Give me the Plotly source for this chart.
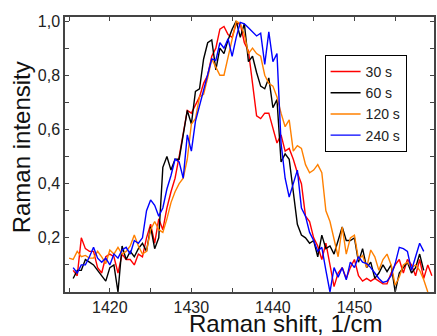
import plotly.graph_objects as go

# Raman shift grid (1/cm), 0.5 step from 1415.0 to 1459.5
shift = [1415.0 + 0.5 * i for i in range(90)]

s30 = [None, 0.08, 0.06, 0.20, 0.16, 0.15, 0.15, 0.09, 0.07, 0.13,
       0.14, 0.13, 0.07, 0.14, 0.12, 0.12, 0.10, 0.14, 0.13, 0.20,
       0.25, 0.18, 0.27, 0.23, 0.31, 0.37, 0.42, 0.50, 0.58, 0.67,
       0.66, 0.69, 0.72, 0.77, 0.80, 0.87, 0.90, 0.97, 0.98, 0.95,
       0.94, 0.99, 0.99, 0.92, 0.89, 0.77, 0.65, 0.64, 0.66, 0.66,
       0.60, 0.55, 0.58, 0.52, 0.53, 0.49, 0.44, 0.40, 0.28, 0.26,
       0.20, 0.17, 0.12, 0.18, 0.10, 0.02, 0.07, 0.09, 0.05, 0.09,
       0.12, 0.06, 0.04, 0.05, 0.04, 0.05, 0.04, 0.03, 0.03, 0.07,
       0.10, 0.12, 0.07, 0.12, 0.10, 0.06, 0.12, 0.05, 0.10, 0.06]

s60 = [None, 0.05, 0.08, 0.08, 0.12, 0.11, 0.10, 0.08, 0.06, 0.04,
       0.09, 0.10, 0.00, 0.17, 0.12, 0.15, 0.13, 0.16, 0.18, 0.15,
       0.24, 0.16, 0.20, 0.46, 0.50, 0.45, 0.49, 0.49, 0.58, 0.67,
       0.62, 0.74, 0.75, 0.86, 0.92, 0.93, 0.82, 0.90, 0.88, 0.93,
       0.97, 1.00, 0.94, 0.99, 0.85, 0.87, 0.81, 0.76, 0.75, 0.79,
       0.68, 0.71, 0.48, 0.51, 0.49, 0.36, 0.25, 0.21, 0.20, 0.18,
       0.19, 0.13, 0.21, 0.16, 0.17, 0.14, 0.19, 0.24, 0.19, 0.19,
       0.20, 0.11, 0.16, 0.09, 0.11, 0.05, 0.07, 0.10, 0.075, 0.10,
       0.00, 0.07, 0.09, 0.11, 0.07, 0.09, 0.14, 0.08, None, None]

s120 = [0.125, 0.12, 0.15, 0.13, 0.135, 0.125, 0.125, 0.15, 0.13, 0.105,
        0.155, 0.14, 0.165, 0.14, 0.15, 0.17, 0.21, 0.17, 0.14, 0.15,
        0.23, 0.26, 0.23, 0.22, 0.27, 0.33, 0.37, 0.40, 0.42, 0.49,
        0.62, 0.64, 0.72, 0.73, 0.79, 0.86, 0.83, 0.80, 0.80, 0.87,
        0.93, 1.00, 0.99, 0.95, 0.88, 0.90, 0.88, 0.87, 0.80, 0.77,
        0.76, 0.72, 0.66, 0.61, 0.635, 0.52, 0.54, 0.53, 0.47, 0.44,
        0.45, 0.47, 0.44, 0.30, 0.26, 0.20, 0.13, 0.24, 0.14, 0.20,
        0.21, 0.12, 0.135, 0.09, 0.155, 0.13, 0.08, 0.12, 0.14, 0.10,
        0.025, 0.055, 0.10, 0.11, 0.09, 0.10, 0.08, 0.045, 0.0, None]

s240 = [None, 0.09, 0.07, 0.10, 0.10, 0.13, 0.165, 0.125, 0.11, 0.125,
        0.10, 0.14, 0.125, 0.155, 0.165, 0.14, 0.19, 0.18, 0.20, 0.30,
        0.34, 0.32, 0.28, 0.31, 0.38, 0.43, 0.49, 0.48, 0.42, 0.58,
        0.52, 0.63, 0.69, 0.745, 0.80, 0.86, 0.855, 0.92, 0.90, 0.935,
        0.87, 0.94, 0.995, 0.99, 0.975, 0.96, 0.945, 0.955, 0.84, 0.96,
        0.85, 0.88, 0.55, 0.42, 0.35, 0.40, 0.45, 0.31, 0.28, 0.22,
        0.19, 0.15, 0.165, 0.08, 0.00, 0.09, 0.055, 0.09, 0.045, 0.11,
        0.09, 0.13, 0.11, 0.105, 0.09, 0.07, 0.05, 0.035, 0.04, 0.06,
        0.105, 0.165, 0.16, 0.15, 0.08, 0.13, 0.18, 0.15, None, None]

series_names = ["30 s", "60 s", "120 s", "240 s"]
series_colors = ["#ff0000", "#000000", "#ff8000", "#0000ff"]
series_data = [s30, s60, s120, s240]

x_tickvals = [1415, 1420, 1425, 1430, 1435, 1440, 1445, 1450, 1455]
x_ticktext = ["", "1420", "", "1430", "", "1440", "", "1450", ""]
y_tickvals = [0.1, 0.2, 0.3, 0.4, 0.5, 0.6, 0.7, 0.8, 0.9, 1.0]
y_ticktext = ["", "0,2", "", "0,4", "", "0,6", "", "0,8", "", "1,0"]

FONT = "Arial, Liberation Sans, sans-serif"

fig = go.Figure()
for name, color, ys in zip(series_names, series_colors, series_data):
    fig.add_trace(go.Scatter(x=shift, y=ys, mode="lines", name=name,
                             line=dict(color=color, width=1.4),
                             connectgaps=False))

axis_common = dict(showgrid=False, zeroline=False, showline=True,
                   linecolor="#444", linewidth=1.5, mirror="allticks",
                   ticks="inside", ticklen=4, tickwidth=1.2, tickcolor="#444",
                   tickfont=dict(family=FONT, size=16, color="#222"))

fig.update_xaxes(range=[1414.5, 1459.76], tickmode="array",
                 tickvals=x_tickvals, ticktext=x_ticktext, **axis_common)
fig.update_yaxes(range=[0.0, 1.015], tickmode="array",
                 tickvals=y_tickvals, ticktext=y_ticktext, **axis_common)

fig.update_layout(
    width=437, height=336,
    margin=dict(l=65, r=1, t=17, b=44),
    plot_bgcolor="white", paper_bgcolor="white",
    showlegend=True,
    legend=dict(x=0.7035, y=0.862, xanchor="left", yanchor="top",
                bgcolor="white", bordercolor="#000", borderwidth=1,
                font=dict(family=FONT, size=14, color="#222"),
                itemwidth=30, tracegroupgap=0),
    annotations=[
        dict(text="Raman intensity", xref="paper", yref="paper",
             x=-0.1186, y=0.527, textangle=-90, showarrow=False,
             xanchor="center", yanchor="middle",
             font=dict(family=FONT, size=24, color="#111")),
        dict(text="Raman shift, 1/cm", xref="paper", yref="paper",
             x=0.598, y=-0.113, showarrow=False,
             xanchor="center", yanchor="middle",
             font=dict(family=FONT, size=24, color="#111")),
    ],
)

fig.write_html("out.html")
